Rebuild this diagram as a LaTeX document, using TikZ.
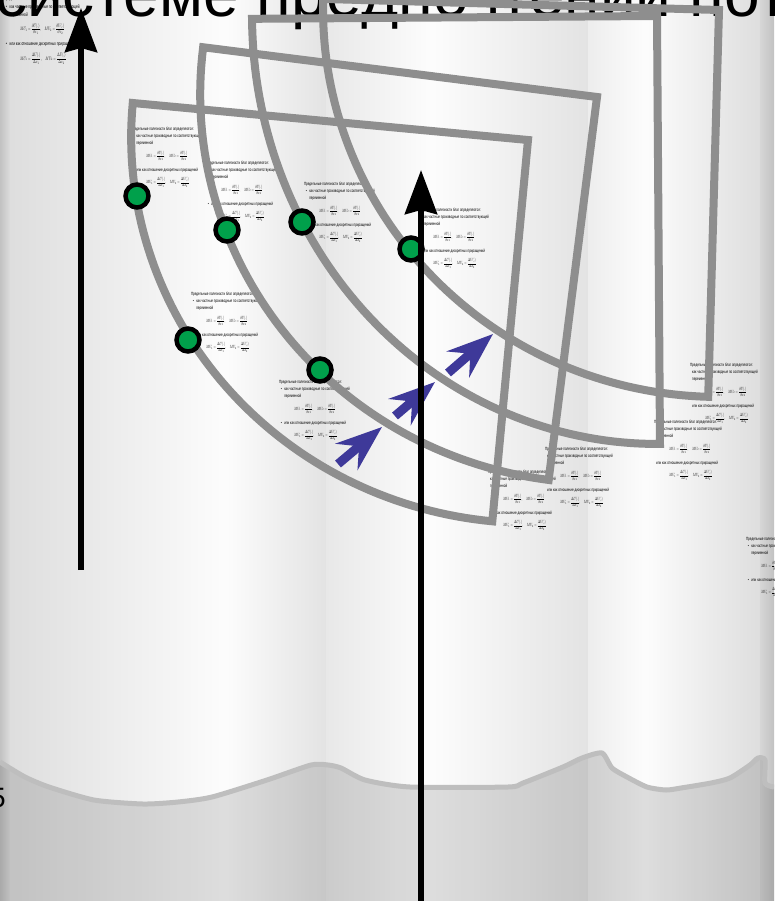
\documentclass[tikz,border=0pt]{standalone}
\usepackage{fontspec}
\setmainfont{Liberation Sans}
\usetikzlibrary{arrows.meta}
\definecolor{secgray}{RGB}{142,142,142}
\definecolor{dotgreen}{RGB}{0,160,75}
\definecolor{indig}{RGB}{62,57,153}
\definecolor{wavegray}{RGB}{190,190,190}
\newcommand\mubody[2]{%
Предельные полезности благ определяются:\\
#1как частные производные по соответствующей\\
\hspace*{#2}переменной\\[11pt]
\hspace*{50pt}$\displaystyle MU_1=\frac{\partial U(.)}{\partial x_1},\quad MU_2=\frac{\partial U(.)}{\partial x_2}$\\[14pt]
#1или как отношение дискретных приращений\\[11pt]
\hspace*{50pt}$\displaystyle MU_1=\frac{\Delta U(.)}{\Delta x_1},\quad MU_2=\frac{\Delta U(.)}{\Delta x_2}$}
\newcommand\withbul{\hspace*{6pt}\textbullet\hspace{8pt}}
\newcommand\nobul{\hspace*{7pt}}
\newcommand\mublock[4]{\begin{scope}[shift={(#2,#3)}]\node[blk] (#1) at (0,0) {\mubody#4};\end{scope}}
\newcommand\sector[5]{\draw[secline] (#1,#2) -- plot[domain=0:90,samples=70,variable=\q] ({#1+(#4)*cos(\q)*cos(#3)+(#5)*sin(\q)*cos(#3-90)},{#2+(#4)*cos(\q)*sin(#3)+(#5)*sin(\q)*sin(#3-90)}) -- cycle;}
\tikzset{
  blkbase/.style={anchor=north west, inner sep=0pt, align=left, transform shape, font=\fontsize{10}{15.6}\selectfont},
  blk/.style={blkbase, xscale=0.3, yscale=0.45},
  blkbig/.style={blkbase, xscale=0.32, yscale=0.5},
  secline/.style={draw=secgray, line width=8pt, line join=miter},
  gdot/.style={circle, fill=dotgreen, draw=black, line width=4.5pt, minimum size=23pt, inner sep=0pt},
  bigarrow/.style={draw=black, line width=6pt, -{Stealth[length=44pt,width=32pt,inset=4pt]}},
  bluearrow/.style={draw=indig, line width=9pt, -{Stealth[length=46pt,width=34pt,inset=16pt]}}
}
\begin{document}
\begin{tikzpicture}[x=1pt,y=-1pt]
\useasboundingbox (0,0) rectangle (774,901);
\clip (0,0) rectangle (774,901);
% background bands
\shade[left color=white!76!black, right color=white!87!black] (0,0) rectangle (10.5,901);
\shade[left color=white!87!black, right color=white!99!black] (10,0) rectangle (225.5,901);
\shade[left color=white!99!black, right color=white!89!black] (225,0) rectangle (326.5,901);
\shade[left color=white!91!black, right color=white!99!black] (326,0) rectangle (430.5,901);
\shade[left color=white!99!black, right color=white!89!black] (430,0) rectangle (588.5,901);
\shade[left color=white!93!black, right color=white!99!black] (588,0) rectangle (645.5,901);
\shade[left color=white!99!black, right color=white!87!black] (645,0) rectangle (760.5,901);
\shade[left color=white!84!black, right color=white!76!black] (760,0) rectangle (774,901);
% lower grey ground
\fill[black, opacity=0.12] plot[smooth,tension=0.4] coordinates {(0,762) (25,777) (49,787) (94,800) (143,804) (178,802) (212,797) (267,780) (311,765) (328,765) (341,768) (365,780) (410,787) (508,787) (523,783) (563,767) (582,758) (602,753) (612,768) (627,777) (647,787) (666,790) (681,788) (711,783) (730,778) (750,765) (758,758) (765,760) (765,783) (774,787)} -- (774,901) -- (0,901) -- cycle;
\draw[wavegray, line width=5pt] plot[smooth,tension=0.4] coordinates {(0,762) (25,777) (49,787) (94,800) (143,804) (178,802) (212,797) (267,780) (311,765) (328,765) (341,768) (365,780) (410,787) (508,787) (523,783) (563,767) (582,758) (602,753) (612,768) (627,777) (647,787) (666,790) (681,788) (711,783) (730,778) (750,765) (758,758) (765,760) (765,783) (774,787)};
\node[anchor=base east, inner sep=0pt, font=\fontsize{28}{28}\selectfont] (pg) at (6,807) {5};
% title (cut at top)
\node[anchor=base west, inner sep=0pt, font=\fontsize{64}{64}\selectfont] (title) at (-5,17) {системе предпочтений пот};
% small text blocks
\begin{scope}[shift={(4,-3)}]\node[blkbig] (t0) at (0,0) {\mubody{\withbul}{17.5pt}};\end{scope}
\mublock{t2}{131}{127}{{\withbul}{17.5pt}}
\mublock{t3}{206}{161}{{\withbul}{17.5pt}}
\mublock{t4}{304}{182}{{\withbul}{17.5pt}}
\mublock{t5}{418}{208}{{\withbul}{17.5pt}}
\mublock{t6}{191}{292}{{\withbul}{17.5pt}}
\mublock{t7}{279}{380}{{\withbul}{17.5pt}}
\mublock{tA}{545}{447}{{\nobul}{7pt}}
\mublock{tB}{488}{470}{{\nobul}{7pt}}
\mublock{tC}{690}{363}{{\nobul}{7pt}}
\mublock{tD}{654}{420}{{\nobul}{7pt}}
\mublock{tE}{746}{537}{{\withbul}{17.5pt}}
% quarter-disc frames
\sector{719}{10}{181.6}{396}{387}
\sector{657}{16}{179.6}{405}{428}
\sector{597}{97}{187.2}{397}{386}
\sector{528}{140}{185.35}{397}{383}
% green points
\node[gdot] (g1) at (137,196) {};
\node[gdot] (g2) at (227,230) {};
\node[gdot] (g3) at (302,222) {};
\node[gdot] (g4) at (411,249) {};
\node[gdot] (g5) at (188,340) {};
\node[gdot] (g6) at (320,370) {};
% blue arrows
\coordinate (b1s) at (338,464); \coordinate (b1e) at (382,427);
\coordinate (b2s) at (395,416); \coordinate (b2e) at (435,382);
\coordinate (b3s) at (448,373); \coordinate (b3e) at (493,334);
\draw[bluearrow] (b1s) -- (b1e);
\draw[bluearrow] (b2s) -- (b2e);
\draw[bluearrow] (b3s) -- (b3e);
% black arrows
\coordinate (la0) at (81,570); \coordinate (la1) at (81,8);
\coordinate (ra0) at (421,905); \coordinate (ra1) at (421,170);
\draw[bigarrow] (la0) -- (la1);
\draw[bigarrow] (ra0) -- (ra1);
\end{tikzpicture}
\end{document}
